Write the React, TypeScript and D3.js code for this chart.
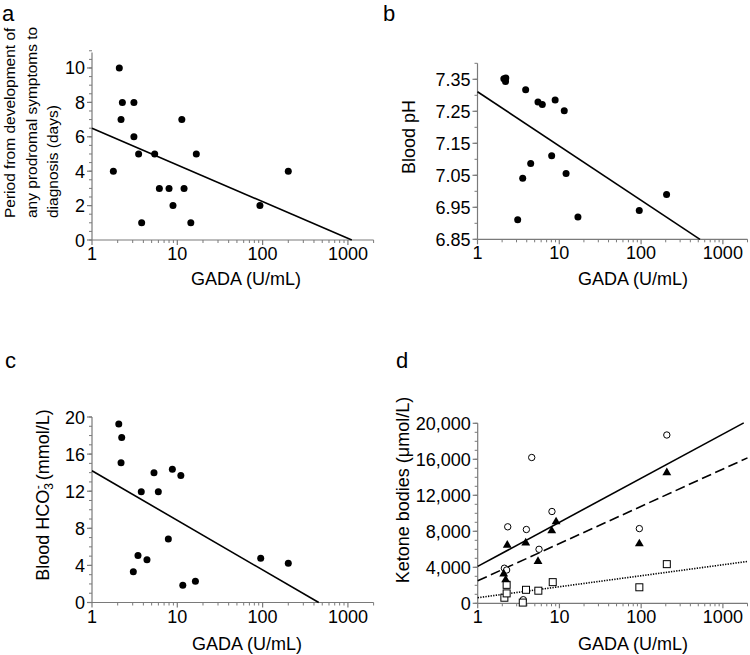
import React from "react";
import * as d3 from "d3";

// ---------- shared axis data ----------
const xTickValues = [1, 10, 100, 1000];
const xTickLabels = ["1", "10", "100", "1000"];
const xDomain = [1, 2000];
const xTitle = "GADA (U/mL)";

// ---------- panel a ----------
const gadaA = [2.09, 2.27, 3.1, 2.19, 3.1, 3.52, 5.43, 11.3, 16.7, 1.78, 6.16, 8.0, 12.0, 8.9, 3.82, 14.4, 93, 200];
const periodDays = [10, 8, 8, 7, 6, 5, 5, 7, 5, 4, 3, 3, 3, 2, 1, 1, 2, 4];
const periodTicks = [0, 2, 4, 6, 8, 10];
const periodFitX = [1, 1110];
const periodFitY = [6.5, 0];

// ---------- panel b ----------
const gadaB = [2.1, 2.22, 2.2, 3.88, 5.49, 6.2, 8.9, 11.5, 8.07, 4.47, 3.57, 12.1, 3.1, 16.9, 95, 205];
const phB = [7.352, 7.354, 7.343, 7.317, 7.279, 7.271, 7.285, 7.252, 7.111, 7.087, 7.041, 7.056, 6.911, 6.92, 6.94, 6.99];
const phTicks = [6.85, 6.95, 7.05, 7.15, 7.25, 7.35];
const phFitX = [1, 525];
const phFitY = [7.311, 6.85];

// ---------- panel c ----------
const gadaC = [2.06, 2.23, 2.19, 5.33, 8.75, 11.0, 3.78, 5.99, 7.85, 3.46, 4.41, 3.05, 11.6, 16.3, 95, 200];
const hco3C = [19.25, 17.8, 15.07, 14.0, 14.36, 13.7, 11.95, 11.95, 6.85, 5.08, 4.62, 3.32, 1.85, 2.28, 4.76, 4.23];
const hco3Ticks = [0, 4, 8, 12, 16, 20];
const hco3FitX = [1, 455];
const hco3FitY = [14.2, 0];

// ---------- panel d ----------
const gadaTotal = [4.58, 8.1, 2.33, 3.94, 5.63, 2.12, 2.26, 3.61, 206, 95];
const totalKetone = [16200, 10200, 8500, 8200, 6000, 3900, 3700, 400, 18700, 8300];
const gadaBOHB = [2.3, 3.87, 8.05, 9.1, 5.47, 2.08, 2.2, 206, 95];
const bohb = [6550, 6800, 8150, 9150, 4750, 3350, 2700, 14600, 6700];
const gadaAcAc = [2.26, 2.12, 2.26, 3.9, 5.52, 8.28, 3.56, 206, 95];
const acac = [2050, 620, 1100, 1500, 1400, 2350, 80, 4350, 1780];
const ketoneTicks = [0, 4000, 8000, 12000, 16000, 20000];
const totalFitX = [1, 1800];
const totalFitY = [4100, 20050];
const bohbFitX = [1, 2000];
const bohbFitY = [2500, 16160];
const acacFitX = [1, 2000];
const acacFitY = [620, 4650];

const FONT = "'Liberation Sans', Arial, Helvetica, sans-serif";
const AXIS = "#7a7a7a";
const TICK_FS = 18;

type Scale = d3.ScaleContinuousNumeric<number, number>;

function XAxis({ x, y0 }: { x: Scale; y0: number }) {
  const [, d1] = x.domain();
  const minors: number[] = [];
  for (let dec = 1; dec < d1; dec *= 10)
    for (let m = 2; m <= 9; m++) {
      const v = dec * m;
      if (v <= d1) minors.push(v);
    }
  const r = x.range();
  return (
    <g>
      <line x1={r[0]} x2={r[1]} y1={y0} y2={y0} stroke={AXIS} strokeWidth={1.2} />
      {minors.map((v) => (
        <line key={"m" + v} x1={x(v)} x2={x(v)} y1={y0} y2={y0 + 3} stroke={AXIS} />
      ))}
      {xTickValues.map((v, i) => (
        <g key={v}>
          <line x1={x(v)} x2={x(v)} y1={y0} y2={y0 + 5} stroke={AXIS} strokeWidth={1.2} />
          <text x={x(v)} y={y0 + 20} textAnchor="middle" fontSize={TICK_FS}>
            {xTickLabels[i]}
          </text>
        </g>
      ))}
    </g>
  );
}

function YAxis({
  y,
  x0,
  ticks,
  minorStep,
  fmt,
}: {
  y: Scale;
  x0: number;
  ticks: number[];
  minorStep: number;
  fmt: (v: number) => string;
}) {
  const [d0, d1] = y.domain();
  const minors: number[] = [];
  const n = Math.round((d1 - d0) / minorStep);
  for (let i = 0; i <= n; i++) minors.push(d0 + i * minorStep);
  const r = y.range();
  return (
    <g>
      <line x1={x0} x2={x0} y1={r[0]} y2={r[1]} stroke={AXIS} strokeWidth={1.2} />
      {minors.map((v, i) => (
        <line key={"m" + i} x1={x0 - 3} x2={x0} y1={y(v)} y2={y(v)} stroke={AXIS} />
      ))}
      {ticks.map((v) => (
        <g key={v}>
          <line x1={x0 - 5} x2={x0} y1={y(v)} y2={y(v)} stroke={AXIS} strokeWidth={1.2} />
          <text x={x0 - 7} y={y(v) + 6.5} textAnchor="end" fontSize={TICK_FS}>
            {fmt(v)}
          </text>
        </g>
      ))}
    </g>
  );
}

function FitLine({
  x,
  y,
  xs,
  ys,
  dash,
}: {
  x: Scale;
  y: Scale;
  xs: number[];
  ys: number[];
  dash?: string;
}) {
  const pts = xs.map((v, i) => [v, ys[i]] as [number, number]);
  const line = d3
    .line<[number, number]>()
    .x((d) => x(d[0]))
    .y((d) => y(d[1]));
  return (
    <path
      d={line(pts) || ""}
      fill="none"
      stroke="#000"
      strokeWidth={1.6}
      strokeDasharray={dash}
    />
  );
}

function Dots({ x, y, xs, ys }: { x: Scale; y: Scale; xs: number[]; ys: number[] }) {
  return (
    <g>
      {xs.map((v, i) => (
        <circle key={i} cx={x(v)} cy={y(ys[i])} r={3.5} fill="#000" />
      ))}
    </g>
  );
}

export default function App() {
  // panel a
  const xA = d3.scaleLog().domain(xDomain).range([92, 373.6]);
  const yA = d3.scaleLinear().domain([0, 10.9]).range([240, 52.5]);
  // panel b
  const xB = d3.scaleLog().domain(xDomain).range([477.5, 747.5]);
  const yB = d3.scaleLinear().domain([6.85, 7.4]).range([239.3, 63.3]);
  // panel c
  const xC = d3.scaleLog().domain(xDomain).range([92, 373.6]);
  const yC = d3.scaleLinear().domain([0, 20]).range([602.5, 417]);
  // panel d
  const xD = d3.scaleLog().domain(xDomain).range([477.7, 747.5]);
  const yD = d3.scaleLinear().domain([0, 20000]).range([603.3, 423.3]);

  const fmtInt = (v: number) => String(v);
  const fmtPh = d3.format(".2f");
  const fmtK = d3.format(",");

  const tri = d3.symbol().type(d3.symbolTriangle).size(34)();

  return (
    <svg
      width={750}
      height={655}
      style={{ position: "absolute", left: 0, top: 0, background: "#fff" }}
      fontFamily={FONT}
      fill="#000"
    >
      <rect width={750} height={655} fill="#fff" />

      {/* Panel letters */}
      <text x={2} y={21} fontSize={22}>a</text>
      <text x={383} y={21} fontSize={22}>b</text>
      <text x={5} y={368} fontSize={22}>c</text>
      <text x={396} y={368} fontSize={22}>d</text>

      {/* ---------- panel a ---------- */}
      <XAxis x={xA} y0={240} />
      <YAxis y={yA} x0={92} ticks={periodTicks} minorStep={0.5} fmt={fmtInt} />
      <FitLine x={xA} y={yA} xs={periodFitX} ys={periodFitY} />
      <Dots x={xA} y={yA} xs={gadaA} ys={periodDays} />
      <text x={246} y={285} textAnchor="middle" fontSize={18}>{xTitle}</text>
      <g fontSize={15.5}>
        <text transform="translate(15,218) rotate(-90)">Period from development of</text>
        <text transform="translate(37,218) rotate(-90)">any prodromal symptoms to</text>
        <text transform="translate(58,218) rotate(-90)">diagnosis (days)</text>
      </g>

      {/* ---------- panel b ---------- */}
      <XAxis x={xB} y0={239.3} />
      <YAxis y={yB} x0={477.5} ticks={phTicks} minorStep={0.05} fmt={fmtPh} />
      <FitLine x={xB} y={yB} xs={phFitX} ys={phFitY} />
      <Dots x={xB} y={yB} xs={gadaB} ys={phB} />
      <text x={633} y={285} textAnchor="middle" fontSize={18}>{xTitle}</text>
      <text transform="translate(415,137) rotate(-90)" textAnchor="middle" fontSize={18}>
        Blood pH
      </text>

      {/* ---------- panel c ---------- */}
      <XAxis x={xC} y0={602.5} />
      <YAxis y={yC} x0={92} ticks={hco3Ticks} minorStep={1} fmt={fmtInt} />
      <FitLine x={xC} y={yC} xs={hco3FitX} ys={hco3FitY} />
      <Dots x={xC} y={yC} xs={gadaC} ys={hco3C} />
      <text x={247} y={650} textAnchor="middle" fontSize={18}>{xTitle}</text>
      <text transform="translate(49,495) rotate(-90)" textAnchor="middle" fontSize={18}>
        Blood HCO
        <tspan fontSize={12} dy={4}>3</tspan>
        <tspan fontSize={12} dx={-6} dy={-11}>-</tspan>
        <tspan dy={7}> (mmol/L)</tspan>
      </text>

      {/* ---------- panel d ---------- */}
      <XAxis x={xD} y0={603.3} />
      <YAxis y={yD} x0={477.7} ticks={ketoneTicks} minorStep={1000} fmt={fmtK} />
      <FitLine x={xD} y={yD} xs={totalFitX} ys={totalFitY} />
      <FitLine x={xD} y={yD} xs={bohbFitX} ys={bohbFitY} dash="10,4.5" />
      <FitLine x={xD} y={yD} xs={acacFitX} ys={acacFitY} dash="1.3,1.3" />
      {gadaTotal.map((v, i) => (
        <circle
          key={"c" + i}
          cx={xD(v)}
          cy={yD(totalKetone[i])}
          r={3.2}
          fill="#fff"
          stroke="#000"
          strokeWidth={1}
        />
      ))}
      {gadaAcAc.map((v, i) => (
        <rect
          key={"s" + i}
          x={xD(v) - 3.5}
          y={yD(acac[i]) - 3.5}
          width={7}
          height={7}
          fill="#fff"
          stroke="#000"
          strokeWidth={1}
        />
      ))}
      {gadaBOHB.map((v, i) => (
        <path
          key={"t" + i}
          d={tri || ""}
          transform={`translate(${xD(v)},${yD(bohb[i]) + 0.8})`}
          fill="#000"
        />
      ))}
      <text x={633} y={650} textAnchor="middle" fontSize={18}>{xTitle}</text>
      <text transform="translate(409,490) rotate(-90)" textAnchor="middle" fontSize={18}>
        Ketone bodies (μmol/L)
      </text>
    </svg>
  );
}
